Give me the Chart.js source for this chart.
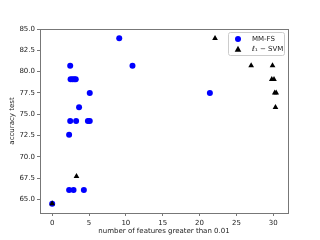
<!DOCTYPE html>
<html>
<head>
<meta charset="utf-8">
<script src="https://cdn.jsdelivr.net/npm/chart.js@4/dist/chart.umd.min.js"></script>
<style>
  html, body { margin: 0; padding: 0; background: #fff; }
  #wrap { width: 320px; height: 240px; }
</style>
</head>
<body>
<div id="wrap"><canvas id="chart" width="320" height="240"></canvas></div>
<script>
// values
const mmfsX = [0, 2.3, 2.45, 2.45, 2.5, 2.75, 3.0, 3.2, 3.25, 4.85, 5.1, 2.3, 2.9, 4.3, 3.65, 5.1, 9.1, 10.9, 21.4];
const mmfsY = [64.5, 72.6, 80.7, 74.2, 79.1, 79.1, 79.1, 79.1, 74.2, 74.2, 74.2, 66.1, 66.1, 66.1, 75.8, 77.5, 83.9, 80.7, 77.5];
const svmX = [0, 3.3, 22.1, 27.0, 29.9, 29.8, 30.1, 30.2, 30.4, 30.3];
const svmY = [64.5, 67.7, 83.9, 80.7, 80.7, 79.1, 79.1, 77.5, 77.5, 75.8];
const xTicks = [0, 5, 10, 15, 20, 25, 30];
const yTicks = [65, 67.5, 70, 72.5, 75, 77.5, 80, 82.5, 85];
const seriesNames = ['MM-FS', 'ℓ₁ − SVM'];

const FONT = { family: 'DejaVu Sans', size: 7 };
const TXT = '#222';

function toPoints(xs, ys) {
    return xs.map((x, i) => ({ x: x, y: ys[i] }));
}

// matplotlib-like frame around the axes
const framePlugin = {
    id: 'frame',
    afterDraw(chart) {
        const { ctx, chartArea: a } = chart;
        ctx.save();
        ctx.strokeStyle = '#777';
        ctx.lineWidth = 1;
        ctx.strokeRect(a.left + 0.5, a.top + 0.5, a.right - a.left, a.bottom - a.top);
        ctx.restore();
    }
};

// legend box in the upper right corner
const legendPlugin = {
    id: 'boxLegend',
    afterDraw(chart) {
        const { ctx, chartArea: a } = chart;
        const x0 = a.right - 60, y0 = a.top + 3, w = 56, h = 23;
        ctx.save();
        ctx.fillStyle = 'rgba(255,255,255,0.8)';
        ctx.strokeStyle = '#ccc';
        ctx.lineWidth = 1;
        ctx.beginPath();
        ctx.roundRect(x0 + 0.5, y0 + 0.5, w, h, 2);
        ctx.fill();
        ctx.stroke();
        ctx.font = '7px "DejaVu Sans"';
        ctx.textBaseline = 'middle';
        chart.data.datasets.forEach((ds, i) => {
            const cy = y0 + 7 + i * 10;
            const r = ds.pointRadius;
            ctx.fillStyle = ds.backgroundColor;
            ctx.beginPath();
            if (ds.pointStyle === 'triangle') {
                ctx.moveTo(x0 + 10, cy - r);
                ctx.lineTo(x0 + 10 + r, cy + r * 0.8);
                ctx.lineTo(x0 + 10 - r, cy + r * 0.8);
            } else {
                ctx.arc(x0 + 10, cy, r, 0, Math.PI * 2);
            }
            ctx.fill();
            ctx.fillStyle = TXT;
            ctx.fillText(ds.label, x0 + 24, cy + 0.5);
        });
        ctx.restore();
    }
};

new Chart(document.getElementById('chart'), {
    type: 'scatter',
    data: {
        datasets: [
            {
                label: seriesNames[0],
                data: toPoints(mmfsX, mmfsY),
                backgroundColor: '#0000ff',
                borderColor: '#0000ff',
                pointStyle: 'circle',
                pointRadius: 3,
                borderWidth: 0,
                order: 2
            },
            {
                label: seriesNames[1],
                data: toPoints(svmX, svmY),
                backgroundColor: '#000000',
                borderColor: '#000000',
                pointStyle: 'triangle',
                pointRadius: 3.3,
                borderWidth: 0,
                order: 1
            }
        ]
    },
    options: {
        responsive: false,
        animation: false,
        layout: { padding: { top: 29, right: 32, left: 0, bottom: 0 } },
        plugins: {
            legend: { display: false },
            tooltip: { enabled: false }
        },
        scales: {
            x: {
                type: 'linear',
                min: -1.65,
                max: 32,
                afterBuildTicks: s => { s.ticks = xTicks.map(v => ({ value: v })); },
                afterFit: s => { s.height = 27; },
                grid: { drawOnChartArea: false, tickLength: 3, color: '#777' },
                border: { display: false },
                ticks: { font: FONT, color: TXT, padding: 3, maxRotation: 0 },
                title: { display: true, text: 'number of features greater than 0.01', font: FONT, color: TXT, padding: { top: 1, bottom: 5 } }
            },
            y: {
                type: 'linear',
                min: 63.4,
                max: 85,
                afterBuildTicks: s => { s.ticks = yTicks.map(v => ({ value: v })); },
                afterFit: s => { s.width = 40; },
                grid: { drawOnChartArea: false, tickLength: 3, color: '#777' },
                border: { display: false },
                ticks: { font: FONT, color: TXT, padding: 2, callback: v => v.toFixed(1) },
                title: { display: true, text: 'accuracy test', font: FONT, color: TXT, padding: { top: 8, bottom: 2 } }
            }
        }
    },
    plugins: [framePlugin, legendPlugin]
});
</script>
</body>
</html>
